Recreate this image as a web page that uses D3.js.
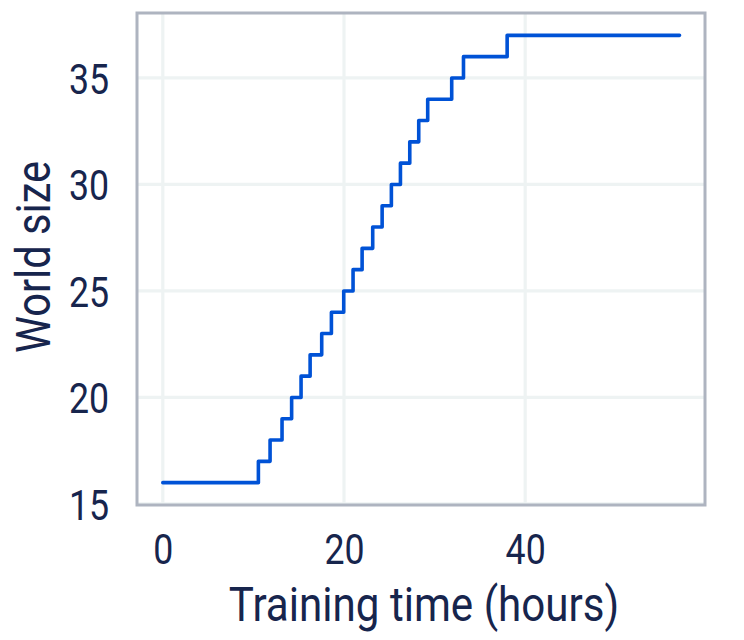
<!DOCTYPE html>
<html>
<head>
<meta charset="utf-8">
<script src="https://cdn.jsdelivr.net/npm/d3@7"></script>
<style>
  html, body { margin: 0; padding: 0; background: #fff; }
  svg { display: block; }
  text { font-family: Roboto, "Noto Sans", sans-serif; fill: #17254d; }
</style>
</head>
<body>
<svg id="chart" width="744" height="640"></svg>
<script>
// Step times (hours) at which world size increases by one
const stepTimes = [10.55, 11.84, 13.16, 14.22, 15.26, 16.26, 17.54, 18.61, 19.97, 21.0,
                   22.0, 23.17, 24.21, 25.23, 26.23, 27.26, 28.25, 29.24, 31.89, 33.19, 38.01];
const startTime = 0;
const endTime = 57.04;
const startSize = 16;
const xTicks = [0, 20, 40];
const yTicks = [15, 20, 25, 30, 35];
const xLabel = "Training time (hours)";
const yLabel = "World size";

// Build series from the arrays
const series = [{ t: startTime, v: startSize }];
stepTimes.forEach((t, i) => series.push({ t: t, v: startSize + i + 1 }));
series.push({ t: endTime, v: startSize + stepTimes.length });

const L = 137, R = 705, T = 13, B = 505;
const svg = d3.select("#chart");
const SX = 0.83;

const x = d3.scaleLinear().domain([-2.85, 59.85]).range([L, R]);
const y = d3.scaleLinear().domain([14.95, 38.05]).range([B, T]);

// grid
const grid = svg.append("g");
grid.selectAll("line.gx").data(xTicks).join("line")
  .attr("x1", d => x(d)).attr("x2", d => x(d))
  .attr("y1", T).attr("y2", B)
  .attr("stroke", "#eef3f3").attr("stroke-width", 3.2);
grid.selectAll("line.gy").data(yTicks).join("line")
  .attr("x1", L).attr("x2", R)
  .attr("y1", d => y(d)).attr("y2", d => y(d))
  .attr("stroke", "#eef3f3").attr("stroke-width", 3.2);

// line
const line = d3.line().x(d => x(d.t)).y(d => y(d.v)).curve(d3.curveStepAfter);
svg.append("path").datum(series)
  .attr("d", line)
  .attr("fill", "none")
  .attr("stroke", "#0052d6")
  .attr("stroke-width", 3.6)
  .attr("stroke-linecap", "round")
  .attr("stroke-linejoin", "round");

// frame
svg.append("rect")
  .attr("x", L).attr("y", T).attr("width", R - L).attr("height", B - T)
  .attr("fill", "none").attr("stroke", "#aeb4c0").attr("stroke-width", 3);

// axes using d3 axis generators (tick lines hidden), then condensed text
const xAxis = svg.append("g").attr("transform", `translate(0,${B})`)
  .call(d3.axisBottom(x).tickValues(xTicks).tickSize(0).tickPadding(0).tickFormat(d3.format("d")));
xAxis.select(".domain").remove();
xAxis.selectAll(".tick text")
  .attr("y", 0).attr("dy", 0)
  .attr("font-size", 43)
  .attr("fill", "#17254d")
  .attr("transform", `translate(0,59) scale(${SX},1)`)
  .attr("text-anchor", "middle");

const yAxis = svg.append("g").attr("transform", `translate(109,0)`)
  .call(d3.axisLeft(y).tickValues(yTicks).tickSize(0).tickPadding(0).tickFormat(d3.format("d")));
yAxis.select(".domain").remove();
yAxis.selectAll(".tick text")
  .attr("x", 0).attr("dy", 0)
  .attr("font-size", 43)
  .attr("fill", "#17254d")
  .attr("transform", `translate(0,15.5) scale(${SX},1)`)
  .attr("text-anchor", "end");

// axis titles
svg.append("text")
  .attr("transform", `translate(${(L + R) / 2 + 3},620.5) scale(0.86,1)`)
  .attr("text-anchor", "middle")
  .attr("font-size", 49)
  .text(xLabel);

svg.append("text")
  .attr("transform", `translate(50,${(T + B) / 2 - 2}) rotate(-90) scale(0.85,1)`)
  .attr("text-anchor", "middle")
  .attr("font-size", 49)
  .text(yLabel);
</script>
</body>
</html>
